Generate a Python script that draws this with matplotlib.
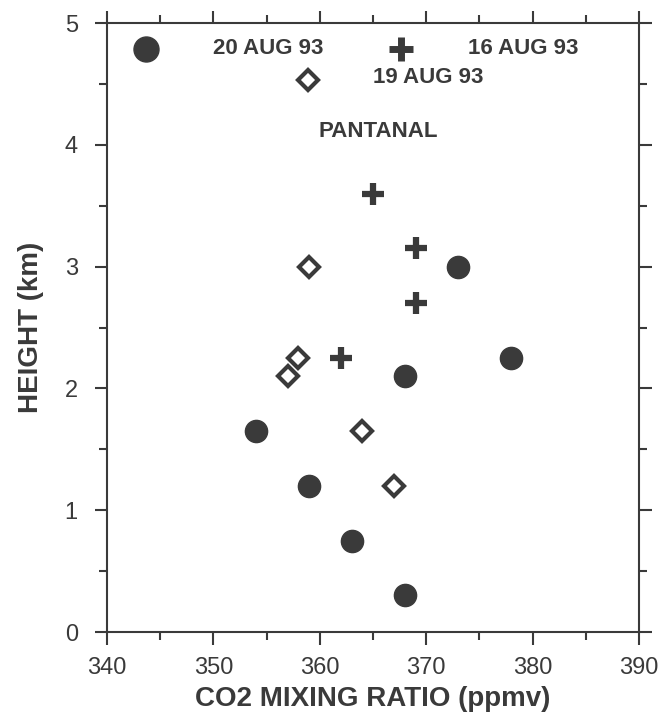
import matplotlib.pyplot as plt
from matplotlib.ticker import MultipleLocator

plt.rcParams['font.family'] = ['Liberation Sans', 'DejaVu Sans']

ink = '#3a3a3a'

# 20 AUG 93 (filled circles)
aug20_co2 = [373, 378, 368, 354, 359, 363, 368]
aug20_h = [3.0, 2.25, 2.1, 1.65, 1.2, 0.75, 0.3]

# 16 AUG 93 (plus)
aug16_co2 = [365, 369, 369, 362]
aug16_h = [3.6, 3.15, 2.7, 2.25]

# 19 AUG 93 (open diamonds)
aug19_co2 = [359, 358, 357, 364, 367]
aug19_h = [3.0, 2.25, 2.1, 1.65, 1.2]

fig = plt.figure(figsize=(6.62, 7.19), dpi=100)
ax = fig.add_axes([0.1616, 0.121, 0.8036, 0.847])

ax.plot(aug20_co2, aug20_h, 'o', ms=16, color=ink, mec=ink)
ax.plot(aug16_co2, aug16_h, '+', ms=16, mew=4.5, color=ink)
ax.plot(aug19_co2, aug19_h, 'D', ms=10.5, mfc='white', mec=ink, mew=3)

# key drawn inside the axes
ax.plot([343.7], [4.79], 'o', ms=18, color=ink)
ax.text(350.0, 4.79, '20 AUG 93', fontsize=16, fontweight='bold', color=ink, va='center')
ax.plot([367.6], [4.79], '+', ms=17, mew=5, color=ink)
ax.text(373.9, 4.79, '16 AUG 93', fontsize=16, fontweight='bold', color=ink, va='center')
ax.plot([358.9], [4.53], 'D', ms=10.5, mfc='white', mec=ink, mew=3)
ax.text(365.0, 4.55, '19 AUG 93', fontsize=16, fontweight='bold', color=ink, va='center')
ax.text(365.5, 4.11, 'PANTANAL', fontsize=16, fontweight='bold', color=ink, va='center', ha='center')

ax.set_xlim(340, 390)
ax.set_ylim(0, 5)
ax.xaxis.set_major_locator(MultipleLocator(10))
ax.xaxis.set_minor_locator(MultipleLocator(5))
ax.yaxis.set_major_locator(MultipleLocator(1))
ax.yaxis.set_minor_locator(MultipleLocator(0.5))
ax.tick_params(which='both', direction='out', top=True, right=True, color=ink,
               width=1.5, labelcolor=ink, labelsize=17)
ax.tick_params(which='major', length=9)
ax.tick_params(which='minor', length=6)
ax.tick_params(axis='x', which='major', pad=9)
ax.tick_params(axis='y', which='major', pad=12)
for s in ax.spines.values():
    s.set_linewidth(1.5)
    s.set_color(ink)

ax.set_xlabel('CO2 MIXING RATIO (ppmv)', fontsize=20, fontweight='bold', color=ink, labelpad=5)
ax.set_ylabel('HEIGHT (km)', fontsize=20, fontweight='bold', color=ink, labelpad=15)

plt.savefig('out.png', dpi=100)
